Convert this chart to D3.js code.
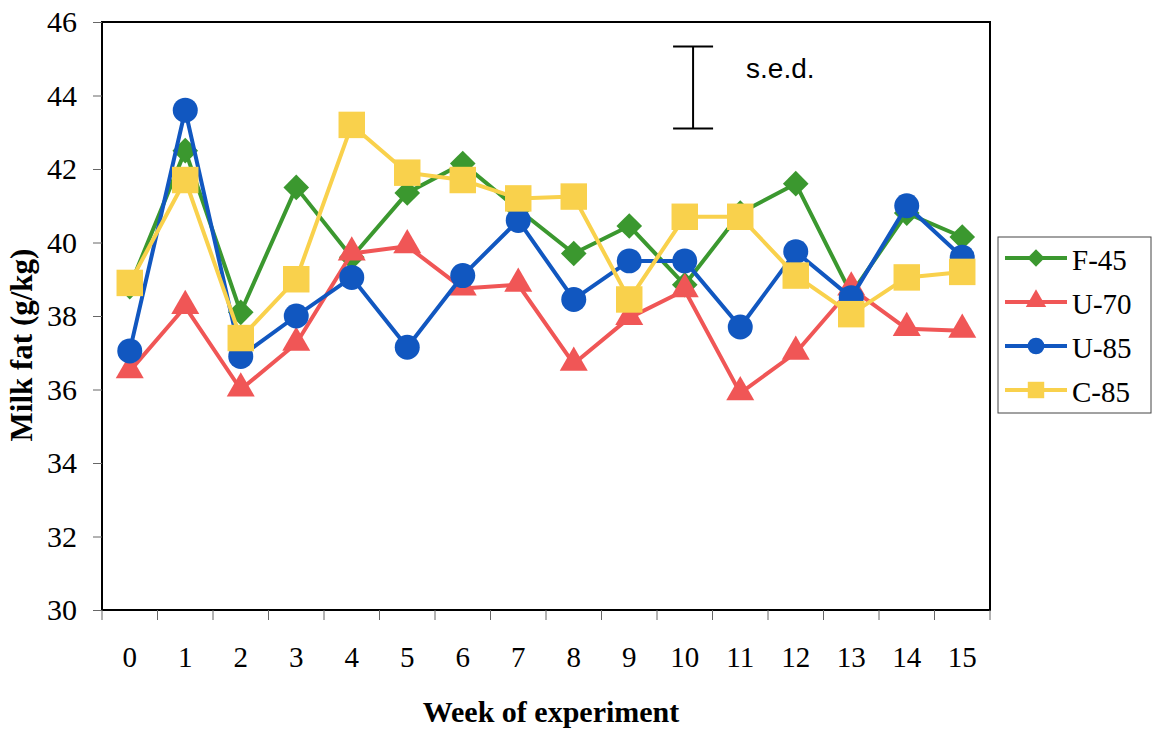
<!DOCTYPE html>
<html>
<head>
<meta charset="utf-8">
<script src="https://cdn.jsdelivr.net/npm/d3@7"></script>
<style>
  body { margin: 0; background: #fff; }
  svg { display: block; }
</style>
</head>
<body>
<svg width="1154" height="731"></svg>
<script>
const weeks = d3.range(0, 16);

const f45 = [38.8, 42.5, 38.1, 41.5, 39.6, 41.35, 42.15, 40.9, 39.7, 40.45, 38.85, 40.8, 41.6, 38.6, 40.8, 40.15];
const u70 = [36.5, 38.25, 36.0, 37.25, 39.7, 39.9, 38.75, 38.85, 36.7, 37.95, 38.7, 35.9, 37.0, 38.75, 37.65, 37.6];
const u85 = [37.05, 43.6, 36.9, 38.0, 39.05, 37.15, 39.1, 40.6, 38.45, 39.5, 39.5, 37.7, 39.75, 38.5, 41.0, 39.6];
const c85 = [38.9, 41.7, 37.4, 39.0, 43.2, 41.9, 41.7, 41.2, 41.25, 38.45, 40.7, 40.7, 39.1, 38.05, 39.05, 39.2];

const seriesNames = ["F-45", "U-70", "U-85", "C-85"];
const seriesValues = [f45, u70, u85, c85];
const seriesColors = ["#3b982f", "#f05656", "#1157c0", "#f9d14c"];
const seriesShapes = [d3.symbolDiamond2, d3.symbolTriangle, d3.symbolCircle, d3.symbolSquare];

const yTicks = [30, 32, 34, 36, 38, 40, 42, 44, 46];
const sed = { week: 10.15, top: 45.33, bottom: 43.1 };

const svg = d3.select("svg");

const plot = { left: 102, right: 990, top: 22, bottom: 610 };
const serif = "'Liberation Serif', 'Times New Roman', serif";

const x = d3.scaleBand().domain(weeks).range([plot.left, plot.right]);
const y = d3.scaleLinear().domain([30, 46]).range([plot.bottom, plot.top]);
const xPos = w => x(w) + x.bandwidth() / 2;
const xLin = d3.scaleLinear().domain([0, 15]).range([xPos(0), xPos(15)]);

// frame
svg.append("rect")
  .attr("x", plot.left)
  .attr("y", plot.top)
  .attr("width", plot.right - plot.left)
  .attr("height", plot.bottom - plot.top)
  .attr("fill", "none")
  .attr("stroke", "#000")
  .attr("stroke-width", 2);

// y axis
const yAxis = svg.append("g")
  .attr("transform", `translate(${plot.left},0)`)
  .call(d3.axisLeft(y).tickValues(yTicks).tickSize(9).tickPadding(16));
yAxis.select(".domain").remove();
yAxis.selectAll(".tick line").attr("stroke", "#666");
yAxis.selectAll(".tick text")
  .style("font-family", serif)
  .style("font-size", "30px")
  .attr("fill", "#000");

// x axis, ticks at band edges
const xAxis = svg.append("g")
  .attr("transform", `translate(0,${plot.bottom})`)
  .call(d3.axisBottom(x).tickSize(0).tickPadding(36));
xAxis.select(".domain").remove();
xAxis.selectAll(".tick text")
  .style("font-family", serif)
  .style("font-size", "29px")
  .attr("fill", "#000");

svg.append("g")
  .selectAll("line")
  .data(weeks.concat([16]))
  .join("line")
  .attr("x1", d => plot.left + d * x.bandwidth())
  .attr("x2", d => plot.left + d * x.bandwidth())
  .attr("y1", plot.bottom)
  .attr("y2", plot.bottom + 10)
  .attr("stroke", "#666");

// axis titles
svg.append("text")
  .attr("x", (plot.left + plot.right) / 2 + 5)
  .attr("y", 722)
  .attr("text-anchor", "middle")
  .style("font-family", serif)
  .style("font-weight", "bold")
  .style("font-size", "30px")
  .text("Week of experiment");

svg.append("text")
  .attr("transform", "translate(32,345) rotate(-90)")
  .attr("text-anchor", "middle")
  .style("font-family", serif)
  .style("font-weight", "bold")
  .style("font-size", "31px")
  .text("Milk fat (g/kg)");

// series
const line = d3.line()
  .x((d, i) => xPos(weeks[i]))
  .y(d => y(d));

const markerSize = [420, 340, 490, 700];

seriesValues.forEach((vals, s) => {
  const g = svg.append("g");
  g.append("path")
    .datum(vals)
    .attr("d", line)
    .attr("fill", "none")
    .attr("stroke", seriesColors[s])
    .attr("stroke-width", 4)
    .attr("stroke-linejoin", "round");
  g.selectAll("path.marker")
    .data(vals)
    .join("path")
    .attr("class", "marker")
    .attr("transform", (d, i) => `translate(${xPos(weeks[i])},${y(d) + (s === 1 ? -1 : 0)})`)
    .attr("d", d3.symbol().type(seriesShapes[s]).size(markerSize[s]))
    .attr("fill", seriesColors[s]);
});

// s.e.d. bar
const sedG = svg.append("g").attr("stroke", "#000").attr("stroke-width", 2);
sedG.append("line")
  .attr("x1", xLin(sed.week)).attr("x2", xLin(sed.week))
  .attr("y1", y(sed.top)).attr("y2", y(sed.bottom));
[sed.top, sed.bottom].forEach(v => {
  sedG.append("line")
    .attr("x1", xLin(sed.week) - 20).attr("x2", xLin(sed.week) + 20)
    .attr("y1", y(v)).attr("y2", y(v));
});
svg.append("text")
  .attr("x", xLin(sed.week) + 53)
  .attr("y", 78)
  .style("font-family", "'Liberation Sans', Arial, sans-serif")
  .style("font-size", "28px")
  .text("s.e.d.");

// legend
const legend = svg.append("g");
legend.append("rect")
  .attr("x", 998)
  .attr("y", 237)
  .attr("width", 153)
  .attr("height", 176)
  .attr("fill", "#fff")
  .attr("stroke", "#444")
  .attr("stroke-width", 1);

const legendMarker = [190, 180, 220, 270];

seriesNames.forEach((name, s) => {
  const ly = 258 + s * 44;
  legend.append("line")
    .attr("x1", 1005).attr("x2", 1067)
    .attr("y1", ly).attr("y2", ly)
    .attr("stroke", seriesColors[s])
    .attr("stroke-width", 4);
  legend.append("path")
    .attr("transform", `translate(1036,${ly + (s === 1 ? -1 : 0)})`)
    .attr("d", d3.symbol().type(seriesShapes[s]).size(legendMarker[s]))
    .attr("fill", seriesColors[s]);
  legend.append("text")
    .attr("x", 1072)
    .attr("y", ly + 12)
    .style("font-family", serif)
    .style("font-size", "29px")
    .text(name);
});
</script>
</body>
</html>
